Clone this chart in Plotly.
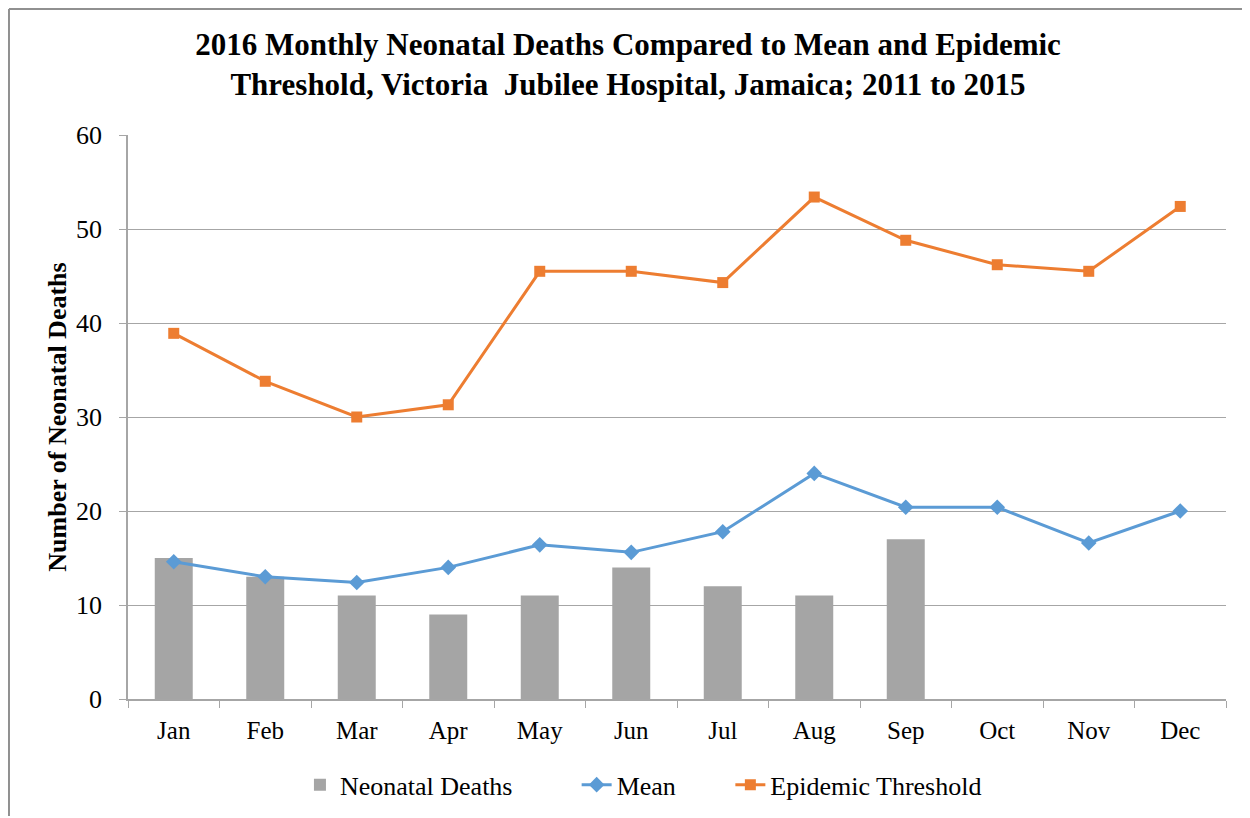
import plotly.graph_objects as go

months = ["Jan", "Feb", "Mar", "Apr", "May", "Jun", "Jul", "Aug", "Sep", "Oct", "Nov", "Dec"]
neonatal_deaths = [15, 13, 11, 9, 11, 14, 12, 11, 17, None, None, None]
mean_vals = [14.6, 13.0, 12.4, 14.0, 16.4, 15.6, 17.8, 24.0, 20.4, 20.4, 16.6, 20.0]
threshold_vals = [38.9, 33.8, 30.0, 31.3, 45.5, 45.5, 44.3, 53.4, 48.8, 46.2, 45.5, 52.4]
y_ticks = [0, 10, 20, 30, 40, 50, 60]

FONT = "Liberation Serif, Times New Roman, serif"

fig = go.Figure()
fig.add_trace(go.Bar(x=months, y=neonatal_deaths, name="Neonatal Deaths", legend="legend",
                     marker=dict(color="#A5A5A5", line=dict(width=0)), width=0.415))
fig.add_trace(go.Scatter(x=months, y=mean_vals, name="Mean", mode="lines+markers", legend="legend2",
                         line=dict(color="#5B9BD5", width=3),
                         marker=dict(symbol="diamond", size=12, color="#5B9BD5")))
fig.add_trace(go.Scatter(x=months, y=threshold_vals, name="Epidemic Threshold", mode="lines+markers",
                         legend="legend3",
                         line=dict(color="#ED7D31", width=3),
                         marker=dict(symbol="square", size=11, color="#ED7D31")))

leg_common = dict(orientation="h", xanchor="left", y=-0.152, yanchor="middle",
                  font=dict(family=FONT, size=26), bgcolor="rgba(0,0,0,0)")

fig.update_layout(
    width=1240, height=808,
    margin=dict(l=120, r=22, t=127, b=117, autoexpand=False),
    paper_bgcolor="white", plot_bgcolor="white",
    font=dict(family=FONT, size=25, color="black"),
    title=dict(text="<b>2016 Monthly Neonatal Deaths Compared to Mean and Epidemic<br>Threshold, Victoria  Jubilee Hospital, Jamaica; 2011 to 2015</b>",
               x=0.5, xanchor="center", y=0.942, yanchor="middle",
               font=dict(family=FONT, size=31, color="black")),
    xaxis=dict(range=[-0.5, 11.5], showline=True, linecolor="#A6A6A6", linewidth=1.5,
               ticks="outside", ticklen=7, tickcolor="#A6A6A6",
               tickson="boundaries", showgrid=False, ticklabelstandoff=8,
               tickfont=dict(family=FONT, size=25)),
    yaxis=dict(range=[0, 60], tickvals=y_ticks, showline=True, linecolor="#A6A6A6", linewidth=1.5,
               ticks="outside", ticklen=7, tickcolor="#A6A6A6",
               showgrid=True, gridcolor="#A6A6A6", gridwidth=1, zeroline=False,
               ticklabelstandoff=12,
               tickfont=dict(family=FONT, size=26),
               title=dict(text="<b>Number of Neonatal Deaths</b>", font=dict(family=FONT, size=26), standoff=2)),
    legend=dict(x=0.1566, **leg_common),
    legend2=dict(x=0.4086, **leg_common),
    legend3=dict(x=0.5486, **leg_common),
    bargap=0.585,
    showlegend=True,
)

fig.add_shape(type="line", xref="paper", yref="paper", x0=-0.1084, x1=1.1, y0=1.2234, y1=1.2234,
              line=dict(color="#909090", width=2))
fig.add_shape(type="line", xref="paper", yref="paper", x0=-0.1084, x1=-0.1084, y0=1.2234, y1=-0.3,
              line=dict(color="#909090", width=2))

fig.write_html("out.html")
